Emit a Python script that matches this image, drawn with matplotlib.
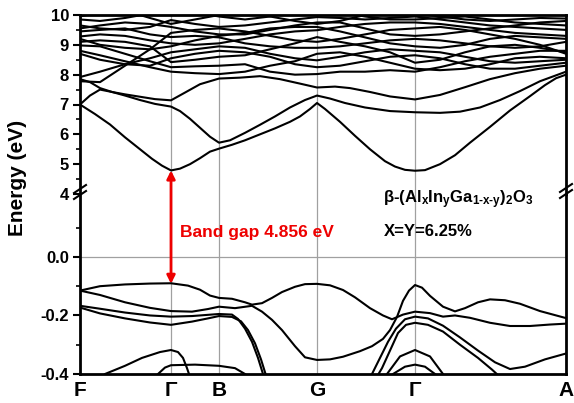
import matplotlib
matplotlib.use('Agg')
import matplotlib.pyplot as plt
from matplotlib.patches import ConnectionPatch
from matplotlib.ticker import FixedLocator, FormatStrFormatter, MultipleLocator

plt.rcParams['font.family'] = ['Liberation Sans', 'DejaVu Sans']
plt.rcParams['font.weight'] = 'bold'
plt.rcParams['axes.unicode_minus'] = False
plt.rcParams['mathtext.fontset'] = 'custom'
plt.rcParams['mathtext.bf'] = 'Liberation Sans:bold'
plt.rcParams['mathtext.rm'] = 'Liberation Sans:bold'
plt.rcParams['mathtext.default'] = 'bf'

# high-symmetry path
k_sym = [0.0, 0.91, 1.39, 2.37, 3.35, 4.86]
k_labels = ['F', 'Γ', 'B', 'G', 'Γ', 'A']

# --- conduction bands (eV) ---
cb1_k = [0.00, 0.15, 0.30, 0.45, 0.60, 0.72, 0.82, 0.91, 1.00, 1.10, 1.20, 1.30, 1.39, 1.52, 1.65, 1.80,
         1.95, 2.10, 2.20, 2.30, 2.37, 2.45, 2.60, 2.75, 2.90, 3.05, 3.15, 3.25, 3.35, 3.45, 3.60, 3.75,
         3.90, 4.10, 4.30, 4.50, 4.65, 4.76, 4.86]
cb1_e = [7.0, 6.68, 6.33, 5.9, 5.5, 5.18, 4.95, 4.79, 4.85, 5.0, 5.2, 5.42, 5.52, 5.65, 5.8, 6.0,
         6.2, 6.42, 6.6, 6.85, 7.05, 6.85, 6.42, 5.95, 5.5, 5.1, 4.92, 4.81, 4.78, 4.8, 5.0, 5.3,
         5.72, 6.25, 6.8, 7.28, 7.65, 7.88, 8.0]

cb2_k = [0.00, 0.10, 0.20, 0.32, 0.45, 0.60, 0.75, 0.91, 1.00, 1.10, 1.20, 1.30, 1.39, 1.50, 1.65, 1.80,
         1.95, 2.10, 2.25, 2.37, 2.50, 2.65, 2.85, 3.10, 3.35, 3.60, 3.80, 4.00, 4.20, 4.40, 4.60, 4.86]
cb2_e = [7.0, 7.3, 7.5, 7.42, 7.3, 7.15, 7.02, 6.93, 6.78, 6.52, 6.22, 5.92, 5.72, 5.8, 6.05, 6.32,
         6.6, 6.9, 7.15, 7.3, 7.2, 7.05, 6.9, 6.78, 6.74, 6.72, 6.76, 6.9, 7.15, 7.45, 7.78, 8.1]

cb3_k = [0.00, 0.10, 0.20, 0.32, 0.45, 0.60, 0.75, 0.91, 1.05, 1.20, 1.39, 1.60, 1.80, 2.00, 2.20, 2.37,
         2.55, 2.70, 2.90, 3.10, 3.35, 3.60, 3.85, 4.10, 4.35, 4.60, 4.86]
cb3_e = [7.85, 7.75, 7.55, 7.42, 7.34, 7.26, 7.18, 7.14, 7.4, 7.68, 7.87, 7.9, 7.95, 7.85, 7.7, 7.57,
         7.6, 7.55, 7.42, 7.27, 7.17, 7.32, 7.58, 7.85, 8.05, 8.2, 8.3]

# higher conduction bands on a shared grid
ku = [0.00, 0.20, 0.45, 0.70, 0.91, 1.15, 1.39, 1.65, 1.90, 2.15, 2.37, 2.60, 2.85, 3.10, 3.35, 3.60,
      3.85, 4.10, 4.35, 4.60, 4.86]
upper_bands = [
    [7.78, 7.75, 8.3, 8.85, 9.4, 9.5, 9.55, 9.45, 9.3, 9.15, 9.1, 9.2, 9.35, 9.5, 9.55, 9.6, 9.5, 9.35, 9.2, 9.0, 8.7],
    [7.92, 8.1, 8.35, 8.55, 8.75, 8.85, 8.95, 8.9, 8.7, 8.55, 8.48, 8.6, 8.75, 8.85, 8.8, 8.75, 8.6, 8.45, 8.4, 8.45, 8.5],
    [8.8, 8.65, 8.45, 8.25, 8.1, 8.05, 8.02, 8.1, 8.3, 8.45, 8.7, 8.75, 8.6, 8.4, 8.2, 8.15, 8.2, 8.35, 8.55, 8.6, 8.55],
    [8.98, 8.95, 8.7, 8.45, 8.25, 8.28, 8.3, 8.35, 8.1, 8.0, 8.02, 8.1, 8.1, 8.15, 8.1, 8.25, 8.45, 8.6, 8.7, 8.8, 8.8],
    [9.1, 9.15, 9.1, 8.95, 8.42, 8.5, 8.6, 8.65, 8.85, 9.05, 9.26, 9.1, 8.95, 8.75, 8.4, 8.5, 8.75, 8.95, 9.0, 8.9, 8.75],
    [9.28, 9.35, 9.3, 9.15, 9.05, 9.0, 9.05, 9.2, 9.35, 9.45, 9.49, 9.6, 9.7, 9.75, 9.75, 9.7, 9.6, 9.5, 9.4, 9.35, 9.3],
    [9.45, 9.5, 9.55, 9.35, 9.26, 9.3, 9.25, 9.05, 8.95, 8.9, 8.9, 8.95, 9.05, 9.15, 9.2, 9.15, 9.05, 8.95, 8.9, 8.95, 9.1],
    [9.65, 9.55, 9.5, 9.6, 9.83, 9.7, 9.6, 9.65, 9.75, 9.85, 9.93, 9.9, 9.85, 9.9, 9.95, 9.85, 9.75, 9.65, 9.6, 9.55, 9.5],
    [9.85, 9.8, 9.9, 10.05, 10.2, 10.1, 9.95, 9.85, 9.95, 10.1, 10.2, 10.1, 9.95, 9.85, 9.85, 9.9, 9.95, 9.85, 9.75, 9.7, 9.65],
    [8.7, 8.5, 8.35, 8.3, 8.55, 8.7, 8.8, 8.75, 8.6, 8.35, 8.25, 8.3, 8.45, 8.6, 8.65, 8.55, 8.35, 8.2, 8.2, 8.3, 8.4],
    [9.55, 9.65, 9.75, 9.7, 9.6, 9.45, 9.35, 9.35, 9.5, 9.65, 9.75, 9.75, 9.55, 9.35, 9.3, 9.35, 9.45, 9.55, 9.65, 9.75, 9.8],
    [9.95, 10.1, 10.15, 9.9, 9.7, 9.85, 10.0, 10.05, 9.95, 9.8, 9.7, 9.8, 10.0, 10.1, 10.05, 9.95, 9.85, 9.8, 9.85, 9.9, 9.88],
    [9.2, 9.0, 8.9, 8.85, 8.95, 9.15, 9.3, 9.4, 9.55, 9.6, 9.6, 9.45, 9.25, 9.05, 8.95, 8.9, 9.0, 9.2, 9.3, 9.25, 9.2],
]

# --- valence bands (eV) ---
vba_k = [0.00, 0.20, 0.45, 0.70, 0.91, 1.08, 1.20, 1.30, 1.39, 1.52, 1.65, 1.72, 1.82, 1.92, 2.02, 2.15,
         2.25, 2.37, 2.50, 2.63, 2.75, 2.90, 3.03, 3.12, 3.23, 3.35, 3.50, 3.63, 3.75, 3.90, 4.10, 4.30,
         4.50, 4.70, 4.86]
vba_e = [-0.115, -0.100, -0.094, -0.091, -0.090, -0.098, -0.112, -0.132, -0.140, -0.143, -0.155, -0.163,
         -0.158, -0.140, -0.120, -0.102, -0.093, -0.092, -0.097, -0.113, -0.138, -0.175, -0.200, -0.213,
         -0.197, -0.187, -0.192, -0.204, -0.200, -0.208, -0.225, -0.236, -0.236, -0.231, -0.228]

vbb_k = [0.00, 0.20, 0.45, 0.70, 0.91, 1.12, 1.28, 1.39, 1.55, 1.72, 1.82, 1.92, 2.02, 2.15, 2.25, 2.37,
         2.50, 2.63, 2.80, 2.92, 3.03, 3.10, 3.17, 3.23, 3.29, 3.35, 3.42, 3.50, 3.63, 3.75, 3.85, 3.98,
         4.10, 4.25, 4.40, 4.60, 4.86]
vbb_e = [-0.115, -0.130, -0.155, -0.174, -0.185, -0.187, -0.178, -0.170, -0.175, -0.167, -0.187, -0.215,
         -0.250, -0.305, -0.343, -0.352, -0.350, -0.341, -0.322, -0.305, -0.280, -0.250, -0.205, -0.150,
         -0.115, -0.096, -0.105, -0.133, -0.170, -0.186, -0.175, -0.155, -0.145, -0.148, -0.160, -0.185,
         -0.209]

vbc_k = [0.00, 0.20, 0.45, 0.70, 0.91, 1.12, 1.39, 1.52, 1.58, 1.65, 1.72, 1.78, 1.83]
vbc_e = [-0.167, -0.177, -0.190, -0.200, -0.204, -0.202, -0.195, -0.197, -0.212, -0.245, -0.290, -0.345, -0.400]

vbd_k = [0.00, 0.20, 0.45, 0.70, 0.91, 1.12, 1.28, 1.39, 1.52, 1.61, 1.68, 1.75, 1.81, 1.86]
vbd_e = [-0.173, -0.193, -0.210, -0.224, -0.232, -0.221, -0.210, -0.202, -0.205, -0.220, -0.250, -0.295,
         -0.350, -0.405]

vbe_k = [0.25, 0.45, 0.62, 0.80, 0.91, 0.98, 1.03, 1.07, 1.09]
vbe_e = [-0.400, -0.372, -0.345, -0.325, -0.318, -0.325, -0.345, -0.380, -0.400]

vbf_k = [0.78, 0.85, 0.91, 1.15, 1.39, 1.55, 1.65]
vbf_e = [-0.400, -0.378, -0.370, -0.368, -0.372, -0.380, -0.400]

vbs1_k = [2.92, 3.00, 3.08, 3.16, 3.25, 3.35, 3.48, 3.63, 3.80, 3.98, 4.15, 4.30, 4.45, 4.65, 4.86]
vbs1_e = [-0.400, -0.345, -0.290, -0.245, -0.213, -0.204, -0.210, -0.235, -0.275, -0.320, -0.360,
          -0.383, -0.375, -0.350, -0.330]

vbs2_k = [2.95, 3.02, 3.10, 3.18, 3.26, 3.35, 3.48, 3.63, 3.80, 3.98, 4.12, 4.20]
vbs2_e = [-0.420, -0.380, -0.320, -0.260, -0.232, -0.225, -0.232, -0.255, -0.300, -0.345, -0.385, -0.410]

vbh1_k = [3.07, 3.20, 3.35, 3.50, 3.63]
vbh1_e = [-0.400, -0.340, -0.318, -0.340, -0.400]

vbh2_k = [3.13, 3.25, 3.35, 3.45, 3.55]
vbh2_e = [-0.400, -0.375, -0.368, -0.375, -0.400]

W, H = 574, 403
fig = plt.figure(figsize=(W / 100, H / 100), dpi=100)
left, right = 80 / W, 566 / W
y_top, y_mid, y_bot = 1 - 15 / H, 1 - 194 / H, 1 - 374 / H
ax_up = fig.add_axes([left, y_mid, right - left, y_top - y_mid])
ax_lo = fig.add_axes([left, y_bot, right - left, y_mid - y_bot])

band_kw = dict(color='black', lw=1.5, solid_joinstyle='round')
for ax in (ax_up, ax_lo):
    for ks in k_sym[1:-1]:
        ax.axvline(ks, color='#a0a0a0', lw=0.9, zorder=0)
    ax.set_xlim(k_sym[0], k_sym[-1])
    for s in ax.spines.values():
        s.set_linewidth(2)

ax_up.plot(cb1_k, cb1_e, **band_kw)
ax_up.plot(cb2_k, cb2_e, **band_kw)
ax_up.plot(cb3_k, cb3_e, **band_kw)
for band in upper_bands:
    ax_up.plot(ku, band, **band_kw)

for bk, be in [(vba_k, vba_e), (vbb_k, vbb_e), (vbc_k, vbc_e), (vbd_k, vbd_e), (vbe_k, vbe_e),
               (vbf_k, vbf_e), (vbs1_k, vbs1_e), (vbs2_k, vbs2_e), (vbh1_k, vbh1_e), (vbh2_k, vbh2_e)]:
    ax_lo.plot(bk, be, **band_kw)
ax_lo.axhline(0.0, color='#a0a0a0', lw=0.9, zorder=0)

ax_up.set_ylim(4, 10)
ax_lo.set_ylim(-0.4, 0.215)
ax_up.spines['bottom'].set_visible(False)
ax_lo.spines['top'].set_visible(False)

ax_up.yaxis.set_major_locator(MultipleLocator(1))
ax_up.yaxis.set_minor_locator(MultipleLocator(0.5))
ax_lo.yaxis.set_major_locator(FixedLocator([-0.4, -0.2, 0.0]))
ax_lo.yaxis.set_minor_locator(FixedLocator([-0.3, -0.1, 0.1]))
ax_lo.yaxis.set_major_formatter(FormatStrFormatter('%.1f'))
for ax in (ax_up, ax_lo):
    ax.tick_params(axis='y', which='major', direction='out', length=5, width=1.5, labelsize=12, pad=3)
    ax.tick_params(axis='y', which='minor', direction='out', length=3, width=1.2)
ax_up.set_xticks([])
ax_lo.set_xticks(k_sym)
ax_lo.set_xticklabels(k_labels)
ax_lo.tick_params(axis='x', length=0, labelsize=15, pad=5)

fig.text(18 / W, 1 - 178 / H, 'Energy (eV)', rotation=90, ha='center', va='center', fontsize=15,
         fontweight='bold')

# axis break marks
for xb, yb in [(80, 192), (566, 191)]:
    for dy in (-3, 3):
        fig.add_artist(plt.Line2D([(xb - 6) / W, (xb + 6) / W], [1 - (yb + dy + 4) / H, 1 - (yb + dy - 4) / H],
                                  color='black', lw=1.5))

# band gap arrow
con = ConnectionPatch(xyA=(k_sym[1], 4.79), coordsA=ax_up.transData,
                      xyB=(k_sym[1], -0.092), coordsB=ax_lo.transData,
                      arrowstyle='<|-|>', color='#ee0000', lw=2, mutation_scale=12,
                      shrinkA=0, shrinkB=0, zorder=5)
fig.add_artist(con)

fig.text(180 / W, 1 - 232 / H, 'Band gap 4.856 eV', color='#ee0000', fontsize=12.5, fontweight='bold',
         va='center', ha='left')
fig.text(383 / W, 1 - 200 / H, r'$\mathrm{\beta}$-(Al$_x$In$_y$Ga$_{1\text{-}x\text{-}y}$)$_2$O$_3$',
         fontsize=12, va='center', ha='left')
fig.text(384 / W, 1 - 232 / H, 'X=Y=6.25%', fontsize=12, fontweight='bold', va='center', ha='left')

fig.savefig('out.png', dpi=100)
